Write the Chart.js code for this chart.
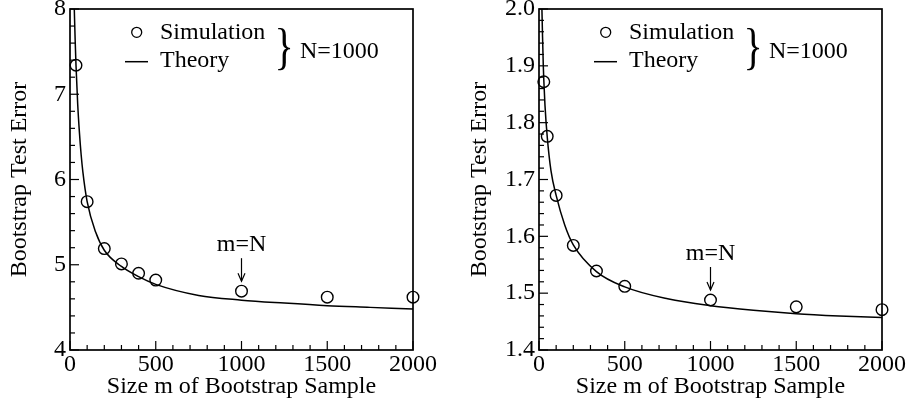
<!DOCTYPE html>
<html>
<head>
<meta charset="utf-8">
<script src="https://cdn.jsdelivr.net/npm/chart.js@4.4.1/dist/chart.umd.min.js"></script>
<style>
  html, body { margin: 0; padding: 0; background: #fff; }
  body { width: 909px; height: 410px; position: relative; overflow: hidden; }
  .box { position: absolute; top: 0; height: 410px; }
  #wrapL { left: 0; width: 455px; }
  #wrapR { left: 460px; width: 449px; }
</style>
</head>
<body>
<div class="box" id="wrapL"><canvas id="cL"></canvas></div>
<div class="box" id="wrapR"><canvas id="cR"></canvas></div>
<script>
// ---------- data ----------
const simSizesLeft = [35, 100, 200, 300, 400, 500, 1000, 1500, 2000];
const simErrorLeft = [7.34, 5.74, 5.19, 5.01, 4.90, 4.82, 4.69, 4.62, 4.62];
const theorySizesLeft = [22, 25, 30, 35, 45, 55, 65, 75, 100, 150, 200, 300, 400, 500, 750, 1000, 1250, 1500, 1750, 2000];
const theoryErrorLeft = [8.22, 8.0, 7.64, 7.34, 6.88, 6.55, 6.29, 6.09, 5.74, 5.38, 5.17, 4.98, 4.86, 4.77, 4.64, 4.585, 4.55, 4.52, 4.50, 4.48];

const simSizesRight = [28, 48, 100, 200, 335, 500, 1000, 1500, 2000];
const simErrorRight = [1.872, 1.776, 1.672, 1.584, 1.539, 1.512, 1.488, 1.476, 1.471];
const theorySizesRight = [15, 17, 20, 25, 28, 35, 48, 70, 100, 150, 200, 335, 500, 750, 1000, 1250, 1500, 1750, 2000];
const theoryErrorRight = [2.03, 2.0, 1.96, 1.90, 1.875, 1.83, 1.775, 1.715, 1.672, 1.62, 1.585, 1.538, 1.511, 1.49, 1.478, 1.47, 1.464, 1.46, 1.457];

const xTickLabels = ['0', '500', '1000', '1500', '2000'];
const yTickLabelsLeft = ['4', '5', '6', '7', '8'];
const yTickLabelsRight = ['1.4', '1.5', '1.6', '1.7', '1.8', '1.9', '2.0'];

const legendLabels = ['Simulation', 'Theory'];
const groupLabel = 'N=1000';
const annotationLabel = 'm=N';
const annotationSize = 1000;
const xTitle = 'Size m of Bootstrap Sample';
const yTitle = 'Bootstrap Test Error';

// ---------- helpers ----------
const FONT = "'Liberation Serif', 'Times New Roman', serif";

function pairs(xs, ys) { return xs.map((x, i) => ({ x: x, y: ys[i] })); }

function decorPlugin(opt) {
  return {
    id: 'decor',
    afterDatasetsDraw(chart) {
      const ctx = chart.ctx;
      const a = chart.chartArea;
      const xs = chart.scales.x, ys = chart.scales.y;
      ctx.save();
      ctx.strokeStyle = '#000';
      ctx.fillStyle = '#000';
      // frame
      ctx.lineWidth = 1.7;
      ctx.strokeRect(a.left, a.top, a.right - a.left, a.bottom - a.top);
      // x ticks (inward)
      ctx.lineWidth = 1.2;
      const nX = Math.round((opt.xMax - opt.xMin) / opt.xMinor);
      for (let i = 0; i <= nX; i++) {
        const v = opt.xMin + i * opt.xMinor;
        const px = xs.getPixelForValue(v);
        const len = (i % opt.xMajorEvery === 0) ? 9 : 5;
        ctx.beginPath(); ctx.moveTo(px, a.bottom); ctx.lineTo(px, a.bottom - len); ctx.stroke();
      }
      const nY = Math.round((opt.yMax - opt.yMin) / opt.yMinor);
      for (let i = 0; i <= nY; i++) {
        const v = opt.yMin + i * opt.yMinor;
        const py = ys.getPixelForValue(v);
        const len = (i % opt.yMajorEvery === 0) ? 9 : 5;
        ctx.beginPath(); ctx.moveTo(a.left, py); ctx.lineTo(a.left + len, py); ctx.stroke();
      }
      // legend
      const lx = a.left;
      ctx.lineWidth = 1.3;
      ctx.beginPath(); ctx.arc(lx + 66.7, 32.3, 5, 0, Math.PI * 2); ctx.stroke();
      ctx.lineWidth = 1.5;
      ctx.beginPath(); ctx.moveTo(lx + 55, 61.7); ctx.lineTo(lx + 78, 61.7); ctx.stroke();
      ctx.font = '24px ' + FONT;
      ctx.textAlign = 'left';
      ctx.textBaseline = 'middle';
      ctx.fillText(legendLabels[0], lx + 90, 33);
      ctx.fillText(legendLabels[1], lx + 90, 61);
      ctx.fillText(groupLabel, lx + 230, 52);
      // brace
      ctx.save();
      ctx.translate(lx + 214, 50);
      ctx.scale(0.8, 1);
      ctx.font = '50px ' + FONT;
      ctx.textAlign = 'center';
      ctx.textBaseline = 'middle';
      ctx.fillText('}', 0, 0);
      ctx.restore();
      // m=N annotation
      const idx = opt.simX.indexOf(annotationSize);
      const px = xs.getPixelForValue(annotationSize);
      const py = ys.getPixelForValue(opt.simY[idx]);
      ctx.font = '24px ' + FONT;
      ctx.textAlign = 'center';
      ctx.textBaseline = 'middle';
      ctx.fillText(annotationLabel, px, py - 46);
      ctx.lineWidth = 1.2;
      ctx.beginPath(); ctx.moveTo(px, py - 33); ctx.lineTo(px, py - 10); ctx.stroke();
      ctx.beginPath(); ctx.moveTo(px - 3.5, py - 18); ctx.lineTo(px, py - 10); ctx.lineTo(px + 3.5, py - 18); ctx.stroke();
      ctx.restore();
    }
  };
}

function makeChart(canvasId, o) {
  const ctx = document.getElementById(canvasId);
  return new Chart(ctx, {
    type: 'scatter',
    data: {
      datasets: [
        {
          label: legendLabels[1],
          data: pairs(o.thX, o.thY),
          showLine: true,
          borderColor: '#000',
          borderWidth: 1.5,
          pointRadius: 0,
          cubicInterpolationMode: 'monotone',
          fill: false
        },
        {
          label: legendLabels[0],
          data: pairs(o.simX, o.simY),
          showLine: false,
          pointStyle: 'circle',
          pointRadius: 5.8,
          pointBorderWidth: 1.4,
          pointBorderColor: '#000',
          pointBackgroundColor: 'rgba(0,0,0,0)',
          clip: false
        }
      ]
    },
    options: {
      responsive: true,
      maintainAspectRatio: false,
      animation: false,
      events: [],
      layout: { padding: { top: 9, right: o.padRight, bottom: 0, left: 0 } },
      plugins: { legend: { display: false }, tooltip: { enabled: false } },
      scales: {
        x: {
          type: 'linear',
          min: 0, max: 2000,
          grid: { display: false, drawTicks: false },
          border: { display: false },
          ticks: {
            stepSize: 500,
            padding: 0,
            color: '#000',
            font: { family: FONT, size: 24 },
            maxRotation: 0,
            callback: (v) => { const i = Math.round(v / 500); return (Math.abs(v - i * 500) < 1e-6) ? xTickLabels[i] : ''; }
          },
          title: { display: true, text: xTitle, color: '#000', font: { family: FONT, size: 24, lineHeight: 1.2 }, padding: { top: 0, bottom: 9 } },
          afterFit: (s) => { s.height = 60; s.paddingLeft = 0; s.paddingRight = 0; }
        },
        y: {
          type: 'linear',
          min: o.yMin, max: o.yMax,
          grid: { display: false, drawTicks: false },
          border: { display: false },
          ticks: {
            stepSize: o.yStep,
            padding: 4,
            color: '#000',
            font: { family: FONT, size: 24 },
            callback: (v) => { const i = Math.round((v - o.yMin) / o.yStep); return (Math.abs(v - (o.yMin + i * o.yStep)) < 1e-6) ? o.yLabels[i] : ''; }
          },
          title: { display: true, text: yTitle, color: '#000', font: { family: FONT, size: 24, lineHeight: 1.2 }, padding: { top: 5, bottom: 0 } },
          afterFit: (s) => { s.width = o.axisWidth; s.paddingTop = 0; s.paddingBottom = 0; }
        }
      }
    },
    plugins: [decorPlugin({
      xMin: 0, xMax: 2000, xMinor: 100, xMajorEvery: 5,
      yMin: o.yMin, yMax: o.yMax, yMinor: o.yMinor, yMajorEvery: o.yMajorEvery,
      simX: o.simX, simY: o.simY
    })]
  });
}

makeChart('cL', {
  thX: theorySizesLeft, thY: theoryErrorLeft,
  simX: simSizesLeft, simY: simErrorLeft,
  yMin: 4, yMax: 8, yStep: 1, yMinor: 0.2, yMajorEvery: 5,
  yLabels: yTickLabelsLeft, axisWidth: 70, padRight: 42
});
makeChart('cR', {
  thX: theorySizesRight, thY: theoryErrorRight,
  simX: simSizesRight, simY: simErrorRight,
  yMin: 1.4, yMax: 2.0, yStep: 0.1, yMinor: 0.02, yMajorEvery: 5,
  yLabels: yTickLabelsRight, axisWidth: 79, padRight: 27
});
</script>
</body>
</html>
